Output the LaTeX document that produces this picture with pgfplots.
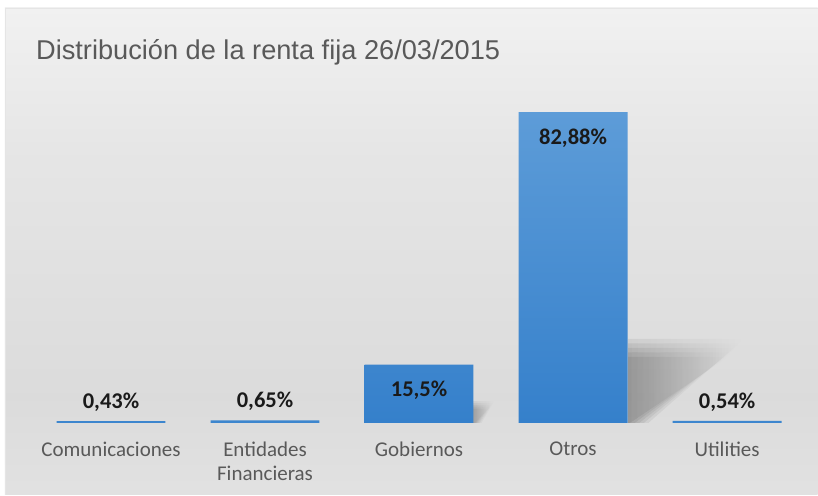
\documentclass[border=0pt]{standalone}
\usepackage{pgfplots}
\pgfplotsset{compat=1.18}
\usepackage{fontspec}
\setmainfont{Carlito}
\newfontfamily\titlefont{Liberation Sans}
\usetikzlibrary{fadings}
\definecolor{titlegray}{HTML}{595959}
\definecolor{labgray}{HTML}{595959}
\definecolor{bartop}{HTML}{5D9CD8}
\definecolor{barbot}{HTML}{3580CB}
\definecolor{valtxt}{HTML}{1A1A1A}
\pgfdeclareverticalshading{chartbg}{100bp}{color(0bp)=(white!97!black); color(14bp)=(white!91!black); color(35bp)=(white!86!black); color(60bp)=(white!90!black); color(80bp)=(white!96!black); color(100bp)=(white!99!black)}

\begin{document}
\begin{tikzpicture}
% background of the chart area
\fill[white] (0,0) rectangle (818pt,495pt);
\shade[shading=chartbg] (5pt,0) rectangle (818pt,487pt);
\draw[gray!20, line width=0.8pt] (5pt,0) -- (5pt,487pt) -- (818pt,487pt);
\node[anchor=base west, inner sep=0pt, text=titlegray, font=\titlefont\fontsize{27.2}{30}\selectfont] at (36pt,435pt)
  {Distribución de la renta fija 26/03/2015};

\begin{axis}[
  at={(34pt,72pt)}, anchor=south west,
  scale only axis,
  width=770.5pt, height=375pt,
  xmin=-0.5, xmax=4.5,
  ymin=0, ymax=100,
  axis line style={draw=none},
  major tick length=0pt,
  ytick=\empty,
  xtick={0,1,2,3,4},
  xticklabels={Comunicaciones, Entidades\\Financieras, Gobiernos, Otros, Utilities},
  xticklabel style={align=center, text=labgray, font=\fontsize{21}{23.5}\selectfont, yshift=-16pt},
  clip=false,
  bar width=0.707,
]
% soft shadows behind the two tall bars (layered to look blurred)
\pgfplotsinvokeforeach{0,1,2,3,4}{
  \fill[black, fill opacity=0.07, path fading=east]
    (axis cs:3.357,0) -- (axis cs:3.357,{20+1.2*(#1-2)})
    -- (axis cs:{4.06+0.025*(#1-2)},{20+1.2*(#1-2)}) -- (axis cs:{3.43+0.03*(#1-2)},0) -- cycle;
  \fill[black, fill opacity=0.06, path fading=east]
    (axis cs:2.35,0) -- (axis cs:2.35,{4.8+0.5*(#1-2)})
    -- (axis cs:{2.47+0.01*(#1-2)},{4.8+0.5*(#1-2)}) -- (axis cs:{2.385+0.01*(#1-2)},0) -- cycle;
}

% tall bars, label inside near the top
\addplot[ybar, bar shift=0pt, draw=none, top color=bartop, bottom color=barbot,
  point meta=explicit symbolic,
  nodes near coords,
  every node near coord/.append style={anchor=center, yshift=-26pt, text=valtxt,
    font=\fontsize{22.5}{25}\selectfont\bfseries}]
  coordinates {
  (2,15.5) [15,5\%]
  (3,82.88) [82,88\%]
};
% small bars, label above
\addplot[ybar, bar shift=0pt, draw=none, fill=barbot!80!bartop,
  point meta=explicit symbolic,
  nodes near coords,
  every node near coord/.append style={anchor=center, yshift=19pt, text=valtxt,
    font=\fontsize{22.5}{25}\selectfont\bfseries}]
  coordinates {
  (0,0.43) [0,43\%]
  (1,0.65) [0,65\%]
  (4,0.54) [0,54\%]
};
\end{axis}
\end{tikzpicture}
\end{document}
